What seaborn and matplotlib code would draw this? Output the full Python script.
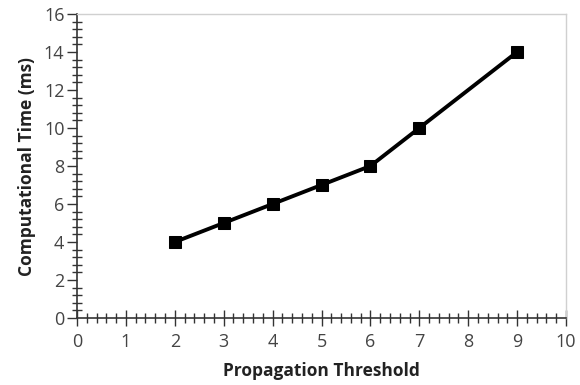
import matplotlib
matplotlib.use("Agg")
import matplotlib.pyplot as plt
import seaborn as sns
import pandas as pd
from matplotlib.ticker import MultipleLocator

thresholds = [2, 3, 4, 5, 6, 7, 9]
times_ms = [4, 5, 6, 7, 8, 10, 14]
x_label = "Propagation Threshold"
y_label = "Computational Time (ms)"

sns.set_style("white")
plt.rcParams['font.family'] = ['Open Sans', 'DejaVu Sans']

df = pd.DataFrame({"x": thresholds, "y": times_ms})

fig = plt.figure(figsize=(5.8, 3.85), dpi=100)
ax = fig.add_axes([77/580, 1 - 318/385, (566-77)/580, (318-14)/385])

sns.lineplot(data=df, x="x", y="y", ax=ax, color="black", linewidth=2.8,
             marker="s", markersize=9, markeredgecolor="black")

ax.set_xlim(0, 10)
ax.set_ylim(0, 16)
ax.xaxis.set_major_locator(MultipleLocator(1))
ax.xaxis.set_minor_locator(MultipleLocator(0.2))
ax.yaxis.set_major_locator(MultipleLocator(2))
ax.yaxis.set_minor_locator(MultipleLocator(0.4))

tc = "#333333"
ax.tick_params(axis="x", which="major", direction="inout", length=12, width=1, color=tc,
               labelsize=13, labelcolor="#444444", pad=5, bottom=True)
ax.tick_params(axis="x", which="minor", direction="inout", length=7, width=1, color=tc, bottom=True)
ax.tick_params(axis="y", which="major", direction="out", length=7, width=1, color=tc,
               labelsize=13, labelcolor="#444444", pad=2, left=True)
ax.tick_params(axis="y", which="minor", direction="inout", length=7, width=1, color=tc, left=True)

for s in ["left", "bottom"]:
    ax.spines[s].set_color("#333333")
    ax.spines[s].set_linewidth(1.2)
for s in ["top", "right"]:
    ax.spines[s].set_color("#d0d0d0")
    ax.spines[s].set_linewidth(1)

ax.set_xlabel(x_label, fontsize=12.5, fontweight="bold", color="#222222", labelpad=8)
ax.set_ylabel(y_label, fontsize=12.5, fontweight="bold", color="#222222", labelpad=6)

fig.savefig("out.png", dpi=100)
